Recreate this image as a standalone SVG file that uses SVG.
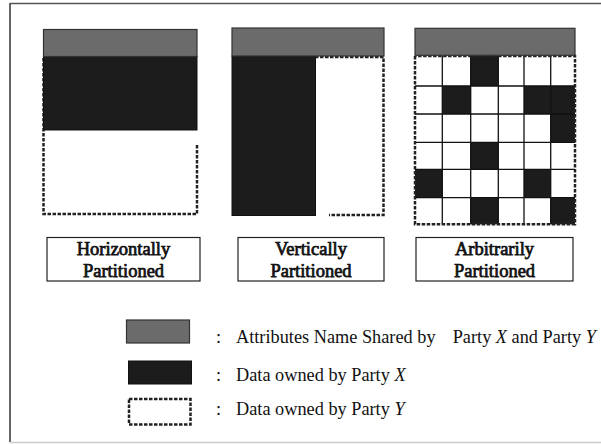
<svg xmlns="http://www.w3.org/2000/svg" width="601" height="444" viewBox="0 0 601 444">
<style>
.hdr{fill:#6b6b6b;stroke:#333;stroke-width:1.2}
.own{fill:#1c1c1c;stroke:#111;stroke-width:1}
.dash{fill:none;stroke:#222;stroke-width:2.5;stroke-dasharray:3.5 1.5}
.grid{stroke:#111;stroke-width:1.3;fill:none}
.lbl{fill:#fff;stroke:#222;stroke-width:1.2}
.lt{font-family:"Liberation Serif","Times New Roman",serif;font-size:18.5px;fill:#111;stroke:#111;stroke-width:0.75;text-anchor:middle}
.leg{font-family:"Liberation Serif","Times New Roman",serif;font-size:18.3px;fill:#111}
</style>
<rect width="601" height="444" fill="#fff"/>
<g id="frame">
<line x1="10" y1="3.5" x2="601" y2="3.5" stroke="#555" stroke-width="1.5"/>
<line x1="10" y1="3" x2="10" y2="442" stroke="#555" stroke-width="1.8"/>
<line x1="10" y1="442.5" x2="601" y2="442.5" stroke="#ccc" stroke-width="1.5"/>
</g>
<g id="horizontal">
<path class="dash" d="M197,145 V214 H43.5 V57"/>
<rect class="own" x="43.5" y="56.5" width="153.5" height="73.5"/>
<rect class="hdr" x="43.5" y="29.5" width="153.5" height="27"/>
</g>
<g id="vertical">
<path class="dash" d="M315,57 H383.5 V215 H329"/>
<rect class="own" x="232" y="56" width="83.5" height="159.5"/>
<rect class="hdr" x="232" y="28" width="152" height="28"/>
</g>
<g id="arbitrary">
<rect x="415" y="56" width="160" height="168.5" fill="#fff"/>
<g fill="#1c1c1c">
<rect x="470.7" y="55.7" width="27.6" height="30.3"/>
<rect x="442.3" y="86" width="28.4" height="28"/>
<rect x="524" y="86" width="26.7" height="28"/>
<rect x="550.7" y="86" width="24.3" height="28"/>
<rect x="550.7" y="114" width="24.3" height="28.3"/>
<rect x="470.7" y="142.3" width="27.6" height="27"/>
<rect x="415" y="169.3" width="27.3" height="28.4"/>
<rect x="524" y="169.3" width="26.7" height="28.4"/>
<rect x="470.7" y="197.7" width="27.6" height="26.6"/>
<rect x="550.7" y="197.7" width="24.3" height="26.6"/>
</g>
<path class="grid" d="M442.3,56 V224.3 M470.7,56 V224.3 M498.3,56 V224.3 M524,56 V224.3 M550.7,56 V224.3 M415,86 H575 M415,114 H575 M415,142.3 H575 M415,169.3 H575 M415,197.7 H575"/>
<path class="dash" d="M415,56 V224.3 H575 V56 H415"/>
<rect class="hdr" x="415" y="28.3" width="160" height="27"/>
</g>
<g id="label-horizontal">
<rect class="lbl" x="47" y="237.5" width="153" height="43.5"/>
<text class="lt" x="123.5" y="255">Horizontally</text>
<text class="lt" x="123.5" y="277">Partitioned</text>
</g>
<g id="label-vertical">
<rect class="lbl" x="238" y="237.5" width="146" height="43.5"/>
<text class="lt" x="311" y="255">Vertically</text>
<text class="lt" x="311" y="277">Partitioned</text>
</g>
<g id="label-arbitrary">
<rect class="lbl" x="416" y="237.5" width="157" height="43.5"/>
<text class="lt" x="494.5" y="255">Arbitrarily</text>
<text class="lt" x="494.5" y="277">Partitioned</text>
</g>
<g id="legend">
<rect class="hdr" x="126.5" y="320" width="63" height="23"/>
<rect class="own" x="128.5" y="361" width="63" height="23"/>
<rect class="dash" x="129" y="399" width="61.5" height="25.5"/>
<text class="leg" x="216" y="342.5">:</text>
<text class="leg" x="216" y="381">:</text>
<text class="leg" x="216" y="414.5">:</text>
<text class="leg" x="236" y="342.5">Attributes Name Shared by</text>
<text class="leg" x="452.7" y="342.5">Party <tspan font-style="italic">X</tspan> and Party <tspan font-style="italic">Y</tspan></text>
<text class="leg" x="236" y="381">Data owned by Party <tspan font-style="italic">X</tspan></text>
<text class="leg" x="236" y="414.5">Data owned by Party <tspan font-style="italic">Y</tspan></text>
</g>
</svg>
